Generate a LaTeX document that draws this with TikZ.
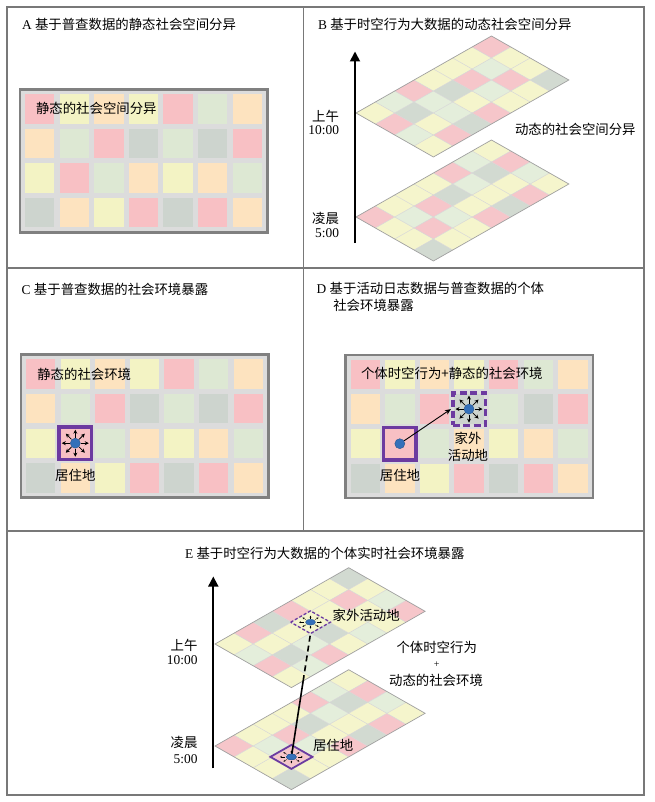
\documentclass[tikz,border=0pt]{standalone}
\usepackage{fontspec}
\setmainfont{Liberation Serif}
\newfontfamily\zh{Noto Sans CJK SC}
\usetikzlibrary{arrows.meta,calc,shapes.geometric}

\definecolor{fP}{RGB}{248,192,196}
\definecolor{fY}{RGB}{243,243,196}
\definecolor{fL}{RGB}{221,232,211}
\definecolor{fG}{RGB}{205,212,206}
\definecolor{fO}{RGB}{253,227,191}
\definecolor{iP}{RGB}{246,198,202}
\definecolor{iY}{RGB}{245,245,204}
\definecolor{iL}{RGB}{228,238,219}
\definecolor{iG}{RGB}{210,218,209}
\definecolor{gridbg}{RGB}{220,220,220}
\definecolor{gridframe}{RGB}{128,128,128}
\definecolor{frameline}{RGB}{120,120,120}
\definecolor{isogridline}{RGB}{215,215,215}
\definecolor{isoedge}{RGB}{160,160,160}
\definecolor{mkpurple}{RGB}{108,58,160}
\definecolor{dotblue}{RGB}{52,112,186}

\newcommand{\zht}[1]{{\zh #1}}

\newcommand{\flatgrid}[2]{%
 \begin{scope}[shift={(#1,#2)}]
  \fill[gridbg] (0,0) rectangle (247.5,143);
  \foreach \row [count=\j from 0] in {{fP,fY,fO,fY,fP,fL,fO},{fO,fL,fP,fG,fL,fG,fP},{fY,fP,fL,fO,fY,fO,fL},{fG,fO,fY,fP,fG,fP,fO}}{%
    \foreach \c [count=\i from 0] in \row {%
      \fill[fill=\c] ({5+34.6*\i},{4.8+34.6*\j}) rectangle ++(29.4,29.4);}}
  \draw[draw=gridframe, line width=2.2pt] (0,0) rectangle (247.5,143);
 \end{scope}}

\newcommand{\isogrid}[6]{%
 \begin{scope}[shift={(#1,#2)}, x={(#3pt,#4pt)}, y={(#3pt,-#4pt)}]
  \foreach \row [count=\j from 0] in {#5}{%
   \foreach \c [count=\i from 0] in \row {%
    \fill[fill=\c] (\i,\j) -- ++(1,0) -- ++(0,1) -- ++(-1,0) -- cycle;}}
  \foreach \k in {1,...,6} {\draw[isoline] (\k,0) -- (\k,4);}
  \foreach \k in {1,2,3} {\draw[isoline] (0,\k) -- (7,\k);}
  \draw[isoborder] (0,0) -- (7,0) -- (7,4) -- (0,4) -- cycle;
  #6
 \end{scope}}

\begin{document}
\begin{tikzpicture}[x=1pt,y=-1pt,
  txt/.style={inner sep=0pt, outer sep=0pt, font=\fontsize{13.4}{16}\selectfont},
  tabline/.style={draw=frameline, line width=1.1pt},
  isoline/.style={draw=isogridline, line width=0.5pt},
  isoborder/.style={draw=isoedge, line width=0.7pt},
  mkframe/.style={draw=mkpurple, line width=3.6pt, minimum size=32.6pt, inner sep=0pt},
  mkdash/.style={mkframe, dash pattern=on 7pt off 3.5pt},
  bdot/.style={circle, fill=dotblue, draw=dotblue!75!black, line width=0.4pt, minimum size=10pt, inner sep=0pt},
  edot/.style={ellipse, fill=dotblue, draw=dotblue!75!black, line width=0.3pt, minimum width=10pt, minimum height=6pt, inner sep=0pt},
  ray/.style={line width=0.8pt, -{Stealth[length=4pt,width=4pt]}},
  tinyray/.style={line width=0.35pt, -{Stealth[length=1.8pt,width=1.8pt]}},
  axisarrow/.style={line width=1.8pt, -{Triangle[length=10pt,width=10pt]}},
  conn/.style={line width=0.9pt, -{Stealth[length=6pt,width=5pt]}},
  link/.style={line width=1.6pt},
]
\useasboundingbox (0,0) rectangle (654,802);
\fill[white] (0,0) rectangle (654,802);

% table frame
\draw[tabline] (7,7) rectangle (644,795);
\draw[tabline] (303.5,7) -- (303.5,531);
\draw[tabline] (7,268) -- (644,268);
\draw[tabline] (7,531) -- (644,531);

% ---------- Panel A ----------
\node[txt, anchor=base west] (tA) at (22,30) {A \zht{基于普查数据的静态社会空间分异}};
\flatgrid{20}{89.5}
\node[txt, anchor=base west] (lA) at (36,113.5) {\zht{静态的社会空间分异}};

% ---------- Panel B ----------
\node[txt, anchor=base west] (tB) at (318,29.5) {B \zht{基于时空行为大数据的动态社会空间分异}};
\isogrid{356}{113}{19.35}{11}{{iY,iL,iP,iY,iY,iY,iP},{iP,iG,iL,iG,iP,iL,iY},{iL,iY,iL,iY,iL,iP,iY},{iY,iP,iG,iP,iY,iY,iG}}{}
\isogrid{356}{217}{19.35}{11}{{iP,iY,iY,iY,iP,iL,iY},{iY,iL,iP,iG,iL,iG,iP},{iY,iP,iL,iY,iY,iY,iL},{iG,iY,iY,iP,iG,iP,iY}}{}
\coordinate (bAxB) at (355,243);
\coordinate (bAxT) at (355,51.5);
\draw[axisarrow] (bAxB) -- (bAxT);
\node[txt, anchor=base east] (bAm) at (339,121.7) {\zht{上午}};
\node[txt, anchor=base east] (bAmT) at (339,135) {10:00};
\node[txt, anchor=base east] (bDn) at (339,223.3) {\zht{凌晨}};
\node[txt, anchor=base east] (bDnT) at (339,237) {5:00};
\node[txt, anchor=base west] (bLbl) at (515,135) {\zht{动态的社会空间分异}};

% ---------- Panel C ----------
\node[txt, anchor=base west] (tC) at (21.7,294) {C \zht{基于普查数据的社会环境暴露}};
\flatgrid{21}{354.5}
\node[txt, anchor=base west] (lC) at (37.3,379) {\zht{静态的社会环境}};
\node[mkframe] (cHome) at (75.3,443.2) {};
\node[bdot] (cDot) at (75.3,443.2) {};
\foreach \a in {0,45,...,315} {\draw[ray] ($(cDot.center)+(\a:5.5)$) -- ($(cDot.center)+(\a:13.5)$);}
\node[txt, anchor=base] (cHomeL) at (75.3,480.7) {\zht{居住地}};

% ---------- Panel D ----------
\node[txt, anchor=base west] (tD1) at (316.7,293) {D \zht{基于活动日志数据与普查数据的个体}};
\node[txt, anchor=base west] (tD2) at (333.3,310) {\zht{社会环境暴露}};
\flatgrid{345.5}{355}
\node[txt, anchor=base west] (lD) at (361,378.3) {\zht{个体时空行为+静态的社会环境}};
\node[mkframe] (dHome) at (399.8,443.7) {};
\node[mkdash] (dOut) at (469,409.1) {};
\node[bdot] (dDot1) at (399.8,443.7) {};
\node[bdot] (dDot2) at (469,409.1) {};
\foreach \a in {0,45,...,315} {\draw[ray] ($(dDot2.center)+(\a:5.5)$) -- ($(dDot2.center)+(\a:13.5)$);}
\draw[conn] (dDot1) -- (dOut.west);
\node[txt, anchor=base] (dOutL1) at (468,443.3) {\zht{家外}};
\node[txt, anchor=base] (dOutL2) at (468,460.7) {\zht{活动地}};
\node[txt, anchor=base] (dHomeL) at (400,480.7) {\zht{居住地}};

% ---------- Panel E ----------
\node[txt, anchor=base west] (tE) at (185,558) {E \zht{基于时空行为大数据的个体实时社会环境暴露}};
\isogrid{215}{644}{19.1}{10.9}{{iY,iP,iG,iP,iY,iY,iG},{iL,iY,iY,iY,iY,iP,iY},{iP,iG,iL,iG,iY,iY,iL},{iY,iL,iP,iY,iL,iY,iP}}{%
  \draw[mkpurple, line width=1.3pt, dash pattern=on 3pt off 2pt] (2.98,0.98) -- (4.02,0.98) -- (4.02,2.02) -- (2.98,2.02) -- cycle;
  \coordinate (eTopC) at (2.98,2.02);
  \node[edot] (eDotT) at (3.5,1.5) {};
  \foreach \a in {0,45,...,315} {\draw[tinyray] ($(3.5,1.5)+(\a:0.24)$) -- ($(3.5,1.5)+(\a:0.42)$);}
}
\isogrid{215}{746}{19.1}{10.9}{{iP,iY,iY,iY,iP,iL,iY},{iY,iL,iP,iG,iL,iG,iP},{iY,iP,iL,iY,iY,iY,iL},{iG,iY,iY,iP,iG,iP,iY}}{%
  \draw[mkpurple, line width=1.8pt] (0.95,1.95) -- (2.05,1.95) -- (2.05,3.05) -- (0.95,3.05) -- cycle;
  \node[edot] (eDotB) at (1.5,2.5) {};
  \foreach \a in {0,45,...,315} {\draw[tinyray] ($(1.5,2.5)+(\a:0.24)$) -- ($(1.5,2.5)+(\a:0.42)$);}
}
\coordinate (eMid) at ($(eDotB.center)!0.614!(eTopC)$);
\draw[link] (eDotB.center) -- (eMid);
\draw[link, dash pattern=on 6pt off 4pt] (eMid) -- (eTopC);
\node[edot] at (eDotB.center) {};
\coordinate (eAxB) at (213.3,768.3);
\coordinate (eAxT) at (213.3,576.5);
\draw[axisarrow] (eAxB) -- (eAxT);
\node[txt, anchor=base east] (eAm) at (197.5,650) {\zht{上午}};
\node[txt, anchor=base east] (eAmT) at (197.5,664) {10:00};
\node[txt, anchor=base east] (eDn) at (197.5,747.3) {\zht{凌晨}};
\node[txt, anchor=base east] (eDnT) at (197.5,763) {5:00};
\node[txt, anchor=base west] (eOutL) at (332.7,620) {\zht{家外活动地}};
\node[txt, anchor=base west] (eHomeL) at (313,750) {\zht{居住地}};
\node[txt, anchor=base] (eR1) at (436.7,652.3) {\zht{个体时空行为}};
\node[inner sep=0pt, font=\fontsize{10}{11}\selectfont] (eR2) at (436.7,665) {+};
\node[txt, anchor=base] (eR3) at (436,685) {\zht{动态的社会环境}};
\end{tikzpicture}
\end{document}
